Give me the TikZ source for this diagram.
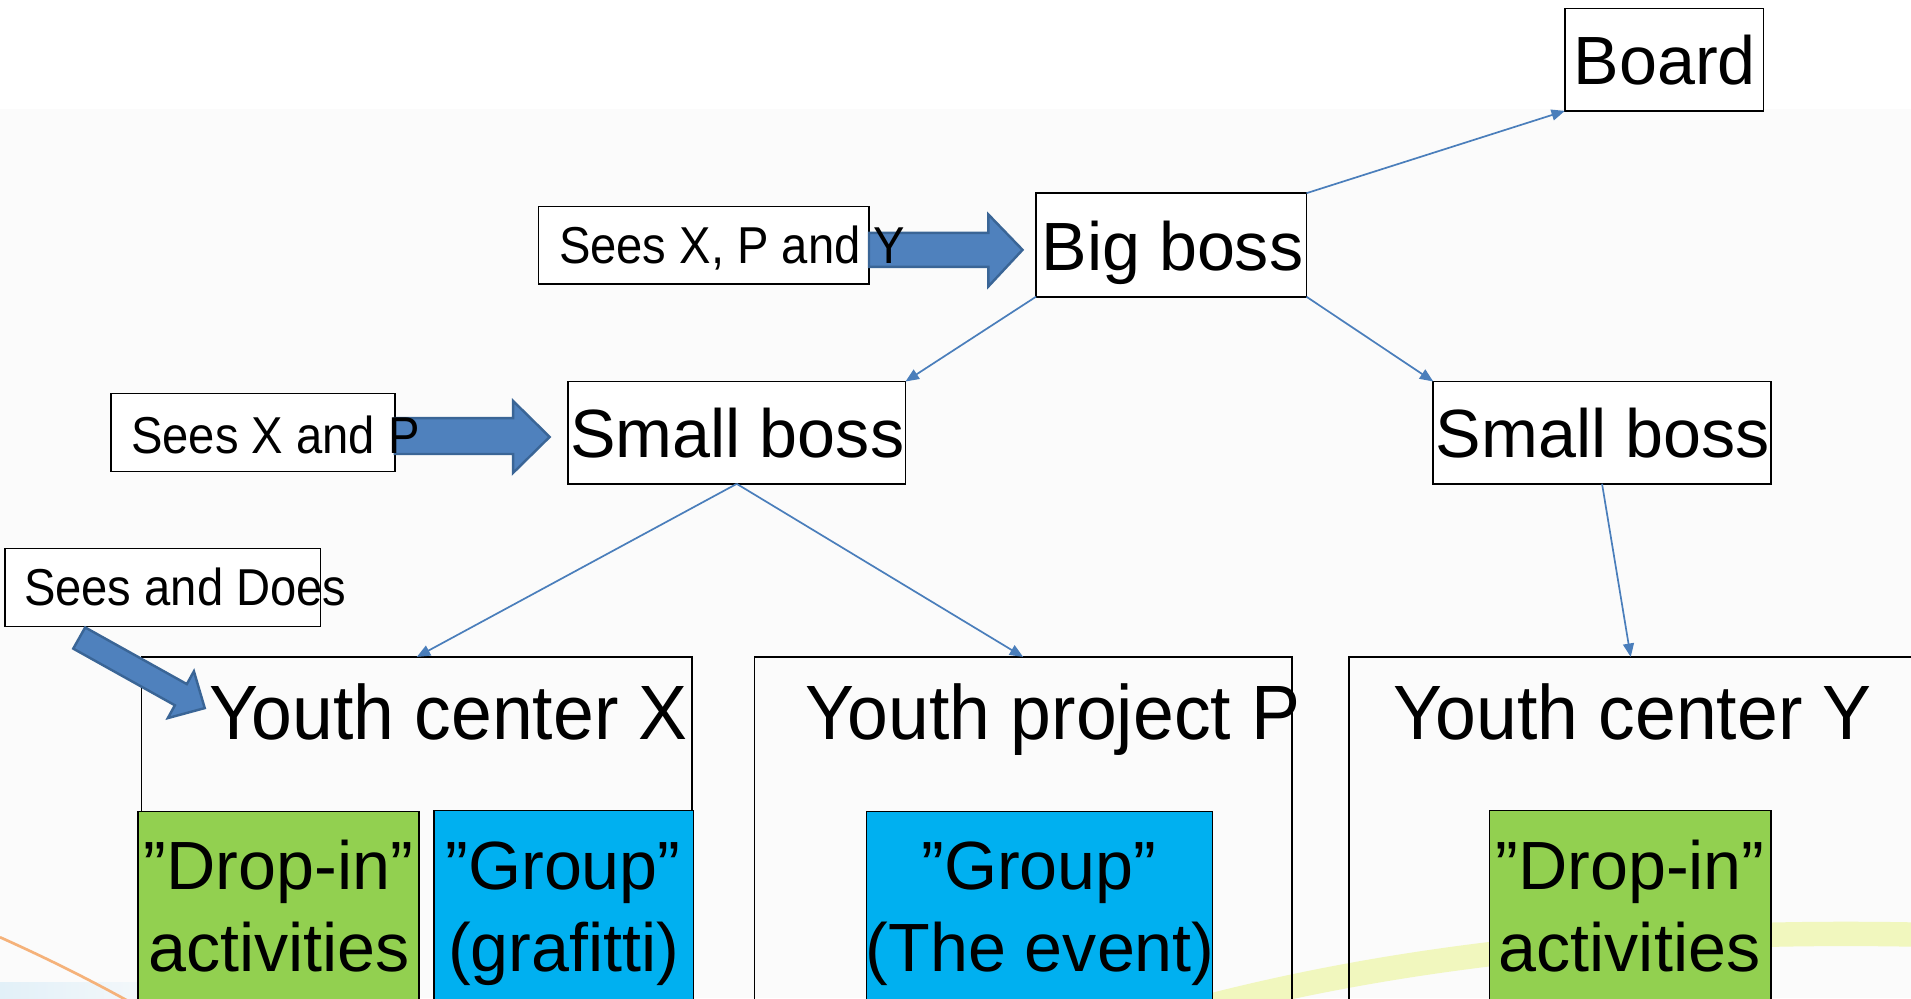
\documentclass[tikz,border=0pt]{standalone}
\usepackage{fontspec}
\setmainfont{Liberation Sans}
\usetikzlibrary{arrows.meta,calc}
\definecolor{arrowblue}{HTML}{4F81BD}
\definecolor{arrowedge}{HTML}{3A6596}
\definecolor{linkblue}{HTML}{4A7EBB}
\definecolor{boxgreen}{HTML}{92D050}
\definecolor{boxblue}{HTML}{00B0F0}
\definecolor{bggray}{HTML}{FBFBFB}
\definecolor{arcyellow}{HTML}{F1F7BE}
\definecolor{orangeline}{HTML}{F5B27A}
\definecolor{paleblue}{HTML}{E2F0F8}
\newcommand{\tallA}[1]{\scalebox{1}[1.1]{#1}}
\newcommand{\tallB}[1]{\scalebox{1}[1.05]{#1}}
\begin{document}
\begin{tikzpicture}[x=1pt,y=-1pt,
  frame/.style={draw=black,line width=1.3pt,inner sep=0pt,outer sep=0pt},
  whitebox/.style={frame,fill=white},
  openbox/.style={frame},
  greenbox/.style={frame,fill=boxgreen},
  bluebox/.style={frame,fill=boxblue},
  bigtxt/.style={font=\fontsize{56}{67}\selectfont,inner sep=0pt,anchor=base},
  titletxt/.style={font=\fontsize{60.2}{72}\selectfont,inner sep=0pt,anchor=base},
  smalltxt/.style={font=\fontsize{38.7}{46}\selectfont,inner sep=0pt,anchor=base west},
  link/.style={draw=linkblue,line width=1.4pt,-{Triangle[length=11pt,width=9pt]}},
  blockarrow/.style={fill=arrowblue,draw=arrowedge,line width=2pt,line join=miter}
]
\useasboundingbox (0,0) rectangle (1568,819);
\begin{scope}
\clip (0,0) rectangle (1568,819);
% background
\fill[white] (0,0) rectangle (1568,89.5);
\fill[bggray] (0,89.5) rectangle (1568,819);
\shade[left color=paleblue,right color=bggray] (0,806) rectangle (170,819);
\draw[orangeline,line width=2.2pt] (0,769) .. controls (40,787) and (72,803) .. (110,824);
\draw[arcyellow,line width=20pt] (975,830) .. controls (1150,783) and (1350,762) .. (1580,767);

% main boxes
\node[whitebox,minimum width=163pt,minimum height=84pt] (board) at (1365.5,49) {};
\node[whitebox,minimum width=222pt,minimum height=85pt] (bigboss) at (961,201) {};
\node[whitebox,minimum width=277pt,minimum height=84pt] (sbl) at (604.5,355) {};
\node[whitebox,minimum width=277pt,minimum height=84pt] (sbr) at (1314.5,355) {};
\node[openbox,minimum width=452pt,minimum height=361pt] (yx) at (342,719.5) {};
\node[openbox,minimum width=441pt,minimum height=361pt] (yp) at (839.5,719.5) {};
\node[openbox,minimum width=462pt,minimum height=361pt] (yy) at (1338,719.5) {};
\node[greenbox,minimum width=231pt,minimum height=234pt] (gx) at (228.5,783) {};
\node[bluebox,minimum width=213pt,minimum height=235pt] (bx) at (462.5,782.5) {};
\node[bluebox,minimum width=284pt,minimum height=234pt] (bp) at (853,783) {};
\node[greenbox,minimum width=231pt,minimum height=235pt] (gy) at (1337.5,782.5) {};

% thin connectors
\draw[link] (bigboss.north east) -- (board.south west);
\draw[link] (bigboss.south west) -- (sbl.north east);
\draw[link] (bigboss.south east) -- (sbr.north west);
\draw[link] (sbl.south) -- (yx.north);
\draw[link] (sbl.south) -- (yp.north);
\draw[link] (sbr.south) -- (yy.north);

% label boxes
\node[whitebox,minimum width=271pt,minimum height=63.5pt] (s1) at (577.5,201.3) {};
\node[whitebox,minimum width=233pt,minimum height=64pt] (s2) at (207.5,355) {};
\node[whitebox,minimum width=259pt,minimum height=64pt] (s3) at (133.5,482) {};

% block arrows
\draw[blockarrow] (713,191) -- (811,191) -- (811,176) -- (839,205) -- (811,235) -- (811,219) -- (713,219) -- cycle;
\draw[blockarrow] (324,343) -- (421,343) -- (421,329) -- (451,358.5) -- (421,388) -- (421,372.5) -- (324,372.5) -- cycle;
\draw[blockarrow] (60.1,532.2) -- (143.5,578.7) -- (137.7,589.2) -- (168,581) -- (159.1,550.8) -- (153.3,561.3) -- (69.9,514.8) -- cycle;

% texts
\node[bigtxt] (tboard) at (1366,69.5) {Board};
\node[bigtxt] (tbig) at (962,222) {Big boss};
\node[bigtxt] (tsbl) at (605,375.5) {Small boss};
\node[bigtxt] (tsbr) at (1315,375.5) {Small boss};
\node[titletxt] (tyx) at (368,607) {\tallB{Youth center X}};
\node[titletxt] (typ) at (864,607) {\tallB{Youth project P}};
\node[titletxt] (tyy) at (1339.5,607) {\tallB{Youth center Y}};
\node[bigtxt] (tgx1) at (228.5,730) {”Drop-in”};
\node[bigtxt] (tgx2) at (229,797) {activities};
\node[bigtxt] (tbx1) at (462,730) {”Group”};
\node[bigtxt] (tbx2) at (462.5,797) {(grafitti)};
\node[bigtxt] (tbp1) at (852.5,730) {”Group”};
\node[bigtxt] (tbp2) at (853.5,797) {(The event)};
\node[bigtxt] (tgy1) at (1337.5,730) {”Drop-in”};
\node[bigtxt] (tgy2) at (1337,797) {activities};
\node[smalltxt] (ts1) at (458.5,216.5) {\tallA{Sees X, P and Y}};
\node[smalltxt] (ts2) at (107.5,372) {\tallA{Sees X and P}};
\node[smalltxt] (ts3) at (19.5,497) {\tallA{Sees and Does}};
\end{scope}
\end{tikzpicture}
\end{document}
